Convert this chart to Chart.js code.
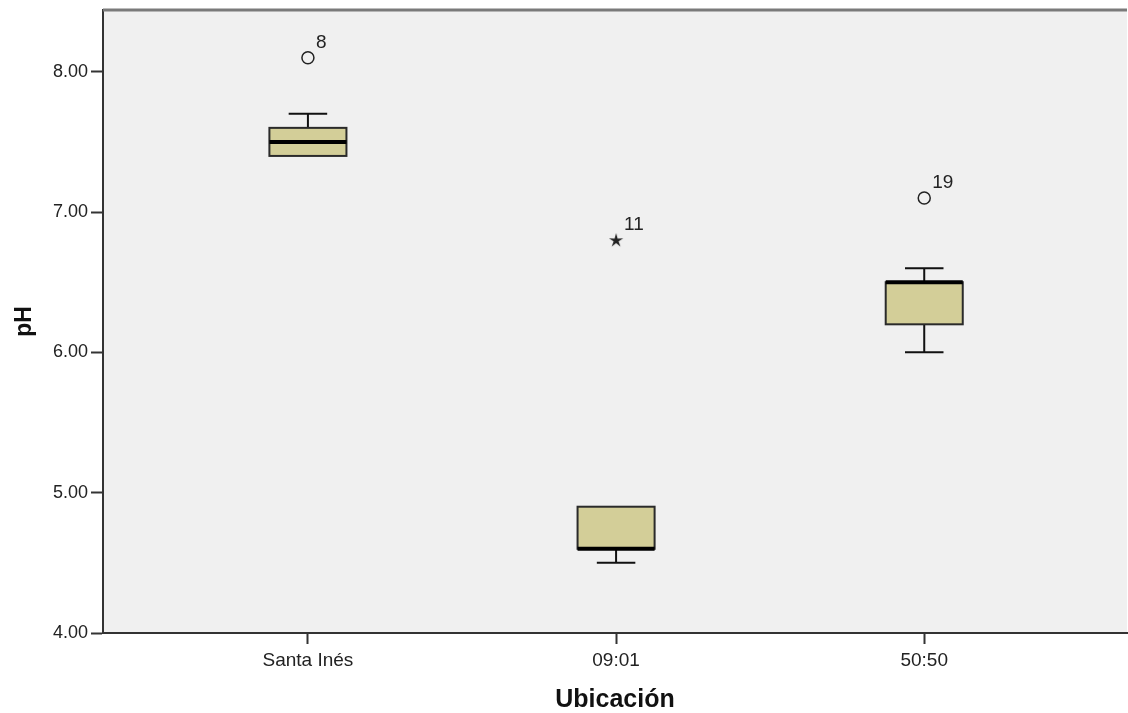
<!DOCTYPE html>
<html>
<head>
<meta charset="utf-8">
<script src="https://cdn.jsdelivr.net/npm/chart.js@4.4.0/dist/chart.umd.min.js"></script>
<style>
  html, body { margin: 0; padding: 0; background: #fff; overflow: hidden; width: 1128px; height: 713px; }
</style>
</head>
<body>
<canvas id="myChart" width="1136" height="713"></canvas>
<script>
// box plot values
var categories = ['Santa Inés', '09:01', '50:50'];
var whiskerLow = [7.4, 4.5, 6.0];
var q1 = [7.4, 4.6, 6.2];
var median = [7.5, 4.6, 6.5];
var q3 = [7.6, 4.9, 6.5];
var whiskerHigh = [7.7, 4.9, 6.6];

// outliers (circle) and extremes (star), with case numbers
var outlierPos = [0, 2];
var outlierVal = [8.1, 7.1];
var outlierCase = ['8', '19'];
var extremePos = [1];
var extremeVal = [6.8];
var extremeCase = ['11'];

var yTicks = [4, 5, 6, 7, 8];

var boxHalf = 0.125;
var capHalf = 0.0625;

var outlierData = [];
for (var i = 0; i < outlierPos.length; i++) {
    outlierData.push({ x: outlierPos[i], y: outlierVal[i], label: outlierCase[i] });
}
var extremeData = [];
for (var j = 0; j < extremePos.length; j++) {
    extremeData.push({ x: extremePos[j], y: extremeVal[j], label: extremeCase[j] });
}

// small filled 5 point star used as point style for extremes
var starImg = document.createElement('canvas');
starImg.width = 16;
starImg.height = 16;
(function () {
    var s = starImg.getContext('2d');
    s.fillStyle = '#222';
    s.beginPath();
    for (var k = 0; k < 10; k++) {
        var r = (k % 2 === 0) ? 7.5 : 2.6;
        var ang = -Math.PI / 2 + k * Math.PI / 5;
        var px = 8 + r * Math.cos(ang), py = 8.5 + r * Math.sin(ang);
        if (k === 0) s.moveTo(px, py); else s.lineTo(px, py);
    }
    s.closePath();
    s.fill();
})();

var boxPlugin = {
    id: 'boxes',
    beforeDraw: function (chart) {
        var ctx = chart.ctx, a = chart.chartArea;
        ctx.save();
        ctx.fillStyle = '#f0f0f0';
        ctx.fillRect(a.left, a.top, a.right - a.left, a.bottom - a.top);
        ctx.restore();
    },
    beforeDatasetsDraw: function (chart) {
        var ctx = chart.ctx;
        var xs = chart.scales.x, ys = chart.scales.y;
        ctx.save();
        for (var i = 0; i < categories.length; i++) {
            var xl = xs.getPixelForValue(i - boxHalf);
            var xr = xs.getPixelForValue(i + boxHalf);
            var xc = xs.getPixelForValue(i);
            var cl = xs.getPixelForValue(i - capHalf);
            var cr = xs.getPixelForValue(i + capHalf);
            var yq1 = ys.getPixelForValue(q1[i]);
            var yq3 = ys.getPixelForValue(q3[i]);
            var ymed = ys.getPixelForValue(median[i]);
            var ylo = ys.getPixelForValue(whiskerLow[i]);
            var yhi = ys.getPixelForValue(whiskerHigh[i]);

            ctx.strokeStyle = '#111';
            ctx.lineWidth = 2;
            // whiskers
            if (whiskerHigh[i] > q3[i]) {
                ctx.beginPath();
                ctx.moveTo(xc, yq3); ctx.lineTo(xc, yhi);
                ctx.moveTo(cl, yhi); ctx.lineTo(cr, yhi);
                ctx.stroke();
            }
            if (whiskerLow[i] < q1[i]) {
                ctx.beginPath();
                ctx.moveTo(xc, yq1); ctx.lineTo(xc, ylo);
                ctx.moveTo(cl, ylo); ctx.lineTo(cr, ylo);
                ctx.stroke();
            }
            // box
            ctx.fillStyle = '#d3ce98';
            ctx.fillRect(xl, yq3, xr - xl, yq1 - yq3);
            ctx.strokeStyle = '#2a2a2a';
            ctx.strokeRect(xl, yq3, xr - xl, yq1 - yq3);
            // median
            ctx.strokeStyle = '#000';
            ctx.lineWidth = 4;
            ctx.beginPath();
            ctx.moveTo(xl, ymed); ctx.lineTo(xr, ymed);
            ctx.stroke();
        }
        ctx.restore();
    },
    afterDatasetsDraw: function (chart) {
        var ctx = chart.ctx;
        var xs = chart.scales.x, ys = chart.scales.y;
        ctx.save();
        ctx.fillStyle = '#222';
        ctx.font = '19px "Liberation Sans", Arial, sans-serif';
        ctx.textAlign = 'left';
        ctx.textBaseline = 'alphabetic';
        var all = outlierData.concat(extremeData);
        for (var k = 0; k < all.length; k++) {
            var px = xs.getPixelForValue(all[k].x);
            var py = ys.getPixelForValue(all[k].y);
            ctx.fillText(all[k].label, px + 8, py - 10);
        }
        ctx.restore();
    },
    afterDraw: function (chart) {
        var ctx = chart.ctx, a = chart.chartArea;
        ctx.save();
        ctx.strokeStyle = '#7a7a7a';
        ctx.lineWidth = 3;
        ctx.beginPath();
        ctx.moveTo(a.left, a.top); ctx.lineTo(a.right, a.top);
        ctx.stroke();
        ctx.restore();
    }
};

var ctx = document.getElementById('myChart').getContext('2d');
var myChart = new Chart(ctx, {
    type: 'scatter',
    data: {
        datasets: [
            {
                data: outlierData,
                pointStyle: 'circle',
                radius: 6,
                borderColor: '#222',
                borderWidth: 1.5,
                backgroundColor: 'rgba(0,0,0,0)'
            },
            {
                data: extremeData,
                pointStyle: starImg,
                radius: 8
            }
        ]
    },
    options: {
        responsive: false,
        animation: false,
        events: [],
        layout: { padding: { top: 10, right: 0, left: 0, bottom: 0 } },
        plugins: { legend: { display: false }, tooltip: { enabled: false } },
        scales: {
            x: {
                type: 'linear',
                min: -0.665,
                max: 2.658,
                afterFit: function (scale) {
                    scale.height = 80;
                    scale.paddingLeft = 0;
                    scale.paddingRight = 0;
                },
                afterBuildTicks: function (scale) {
                    scale.ticks = categories.map(function (c, i) { return { value: i }; });
                },
                ticks: {
                    color: '#222',
                    padding: 5,
                    font: { family: '"Liberation Sans", Arial, sans-serif', size: 19 },
                    callback: function (v) { return categories[v]; }
                },
                grid: { drawOnChartArea: false, tickLength: 11, tickWidth: 2, color: '#333' },
                border: { display: true, color: '#333', width: 2 },
                title: {
                    display: true,
                    text: 'Ubicación',
                    color: '#111',
                    font: { family: '"Liberation Sans", Arial, sans-serif', size: 25, weight: 'bold', lineHeight: 1 },
                    padding: { top: 0, bottom: 0 }
                }
            },
            y: {
                min: 4,
                max: 8.44,
                afterFit: function (scale) {
                    scale.width = 103;
                    scale.paddingTop = 0;
                    scale.paddingBottom = 0;
                },
                afterBuildTicks: function (scale) {
                    scale.ticks = yTicks.map(function (v) { return { value: v }; });
                },
                ticks: {
                    color: '#222',
                    padding: 3,
                    font: { family: '"Liberation Sans", Arial, sans-serif', size: 18 },
                    callback: function (v) { return v.toFixed(2); }
                },
                grid: { drawOnChartArea: false, tickLength: 12, tickWidth: 2, color: '#333' },
                border: { display: true, color: '#333', width: 2 },
                title: {
                    display: true,
                    text: 'pH',
                    color: '#111',
                    font: { family: '"Liberation Sans", Arial, sans-serif', size: 23, weight: 'bold' },
                    padding: { top: 11, bottom: 0 }
                }
            }
        }
    },
    plugins: [boxPlugin]
});
</script>
</body>
</html>
